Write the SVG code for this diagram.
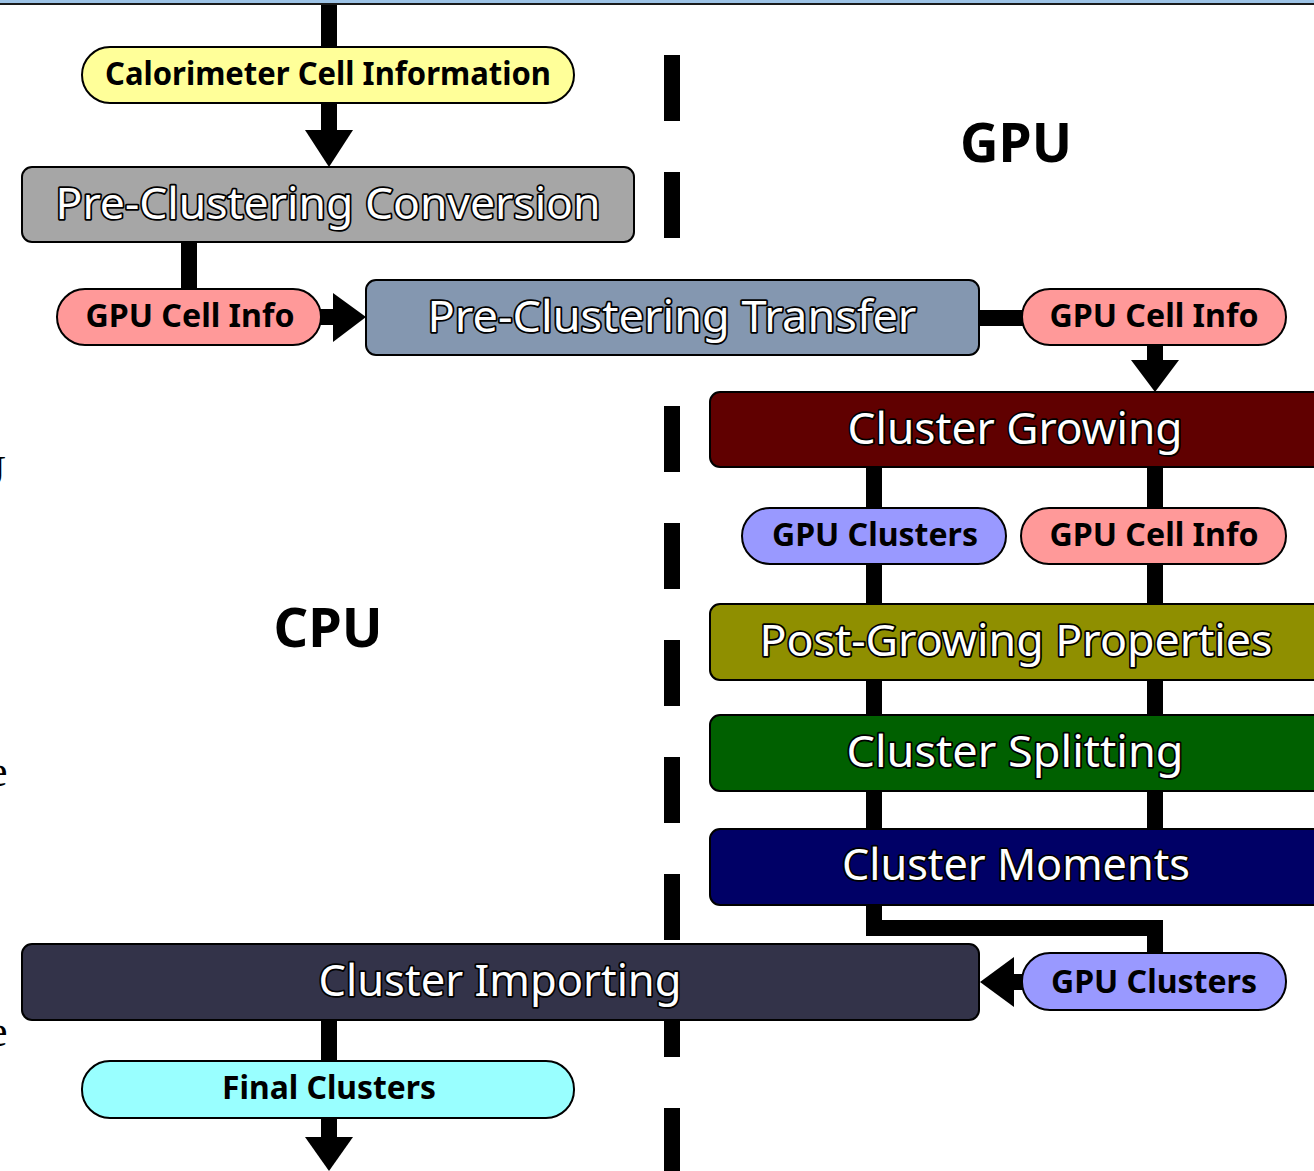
<svg xmlns="http://www.w3.org/2000/svg" width="1314" height="1171" viewBox="0 0 1314 1171">
  <style>
    .box { stroke: #000; stroke-width: 2; }
    .pill { stroke: #000; stroke-width: 2; }
    .lbl { font-family: "Noto Sans", "DejaVu Sans", sans-serif; font-size: 44px; fill: #fff; stroke: #000; stroke-width: 3.5; stroke-linejoin: round; paint-order: stroke; text-anchor: middle; }
    .plbl { font-family: "Noto Sans", "DejaVu Sans", sans-serif; font-weight: bold; font-size: 33px; fill: #000; text-anchor: middle; }
    .big { font-family: "Noto Sans", "DejaVu Sans", sans-serif; font-weight: bold; font-size: 54px; fill: #000; text-anchor: middle; }
    .edge { fill: none; stroke: #000; stroke-width: 16; stroke-linejoin: miter; }
    .ah { fill: #000; }
    .side { font-family: "Liberation Serif", "Times New Roman", serif; font-size: 44px; fill: #000; }
  </style>

  <rect x="0" y="0" width="1314" height="1171" fill="#fff"/>
  <rect x="0" y="0" width="1314" height="3" fill="#9dc3e6"/>
  <line x1="0" y1="4" x2="1314" y2="4" stroke="#1a1a1a" stroke-width="2"/>

  <!-- partial text at left edge -->
  <text class="side" x="-26" y="486">U</text>
  <text class="side" x="-12" y="786">e</text>
  <text class="side" x="-12" y="1046">e</text>

  <!-- divider -->
  <line x1="672" y1="55" x2="672" y2="1171" stroke="#000" stroke-width="16" stroke-dasharray="66 51"/>

  <text class="big" x="1016" y="162" textLength="112" lengthAdjust="spacingAndGlyphs">GPU</text>
  <text class="big" x="328" y="647" textLength="109" lengthAdjust="spacingAndGlyphs">CPU</text>

  <g id="connectors">
    <path class="edge" d="M329 5 V48"/>
    <path class="edge" d="M329 102 V132"/>
    <polygon class="ah" points="305,130 353,130 329,167"/>
    <path class="edge" d="M189 241 V290"/>
    <path class="edge" d="M320 317 H335"/>
    <polygon class="ah" points="333,293 333,342 366,317"/>
    <path class="edge" d="M978 318 H1024"/>
    <path class="edge" d="M1155 344 V362"/>
    <polygon class="ah" points="1131,360 1179,360 1155,392"/>
    <path class="edge" d="M874 466 V605"/>
    <path class="edge" d="M1155 466 V605"/>
    <path class="edge" d="M874 679 V716"/>
    <path class="edge" d="M1155 679 V716"/>
    <path class="edge" d="M874 790 V830"/>
    <path class="edge" d="M1155 790 V830"/>
    <path class="edge" d="M874 904 V928 H1155 V954"/>
    <path class="edge" d="M1024 982 H1012"/>
    <polygon class="ah" points="1014,957 1014,1007 980,982"/>
    <path class="edge" d="M329 1019 V1062"/>
    <path class="edge" d="M329 1117 V1139"/>
    <polygon class="ah" points="305,1137 353,1137 329,1171"/>
  </g>

  <g id="calo-info">
    <rect class="pill" x="82" y="47" width="492" height="56" rx="28" fill="#ffff99"/>
    <text class="plbl" x="328" y="85" textLength="446" lengthAdjust="spacingAndGlyphs">Calorimeter Cell Information</text>
  </g>

  <g id="pre-conversion">
    <rect class="box" x="22" y="167" width="612" height="75" rx="10" fill="#a6a6a6"/>
    <text class="lbl" x="328" y="219" textLength="545" lengthAdjust="spacingAndGlyphs">Pre-Clustering  Conversion</text>
  </g>

  <g id="cellinfo-1">
    <rect class="pill" x="57" y="289" width="264" height="56" rx="28" fill="#ff9999"/>
    <text class="plbl" x="190" y="327" textLength="209" lengthAdjust="spacingAndGlyphs">GPU Cell Info</text>
  </g>

  <g id="pre-transfer">
    <rect class="box" x="366" y="280" width="613" height="75" rx="10" fill="#8497b0"/>
    <text class="lbl" x="672" y="332" textLength="489" lengthAdjust="spacingAndGlyphs">Pre-Clustering  Transfer</text>
  </g>

  <g id="cellinfo-2">
    <rect class="pill" x="1022" y="289" width="264" height="56" rx="28" fill="#ff9999"/>
    <text class="plbl" x="1154" y="327" textLength="209" lengthAdjust="spacingAndGlyphs">GPU Cell Info</text>
  </g>

  <g id="cluster-growing">
    <rect class="box" x="710" y="392" width="620" height="75" rx="10" fill="#600000"/>
    <text class="lbl" x="1015" y="444" textLength="335" lengthAdjust="spacingAndGlyphs">Cluster  Growing</text>
  </g>

  <g id="gpu-clusters-1">
    <rect class="pill" x="742" y="508" width="264" height="56" rx="28" fill="#9999ff"/>
    <text class="plbl" x="875" y="546" textLength="206" lengthAdjust="spacingAndGlyphs">GPU Clusters</text>
  </g>

  <g id="cellinfo-3">
    <rect class="pill" x="1021" y="508" width="265" height="56" rx="28" fill="#ff9999"/>
    <text class="plbl" x="1154" y="546" textLength="209" lengthAdjust="spacingAndGlyphs">GPU Cell Info</text>
  </g>

  <g id="post-growing">
    <rect class="box" x="710" y="604" width="620" height="76" rx="10" fill="#8f8f00"/>
    <text class="lbl" x="1016" y="656" textLength="513" lengthAdjust="spacingAndGlyphs">Post-Growing  Properties</text>
  </g>

  <g id="cluster-splitting">
    <rect class="box" x="710" y="715" width="620" height="76" rx="10" fill="#006000"/>
    <text class="lbl" x="1015" y="767" textLength="337" lengthAdjust="spacingAndGlyphs">Cluster  Splitting</text>
  </g>

  <g id="cluster-moments">
    <rect class="box" x="710" y="829" width="620" height="76" rx="10" fill="#000066"/>
    <text class="lbl" x="1016" y="880" textLength="348" lengthAdjust="spacingAndGlyphs">Cluster  Moments</text>
  </g>

  <g id="gpu-clusters-2">
    <rect class="pill" x="1022" y="953" width="264" height="57" rx="28" fill="#9999ff"/>
    <text class="plbl" x="1154" y="993" textLength="206" lengthAdjust="spacingAndGlyphs">GPU Clusters</text>
  </g>

  <g id="cluster-importing">
    <rect class="box" x="22" y="944" width="957" height="76" rx="10" fill="#333349"/>
    <text class="lbl" x="500" y="996" textLength="363" lengthAdjust="spacingAndGlyphs">Cluster  Importing</text>
  </g>

  <g id="final-clusters">
    <rect class="pill" x="82" y="1061" width="492" height="57" rx="28" fill="#99ffff"/>
    <text class="plbl" x="329" y="1099" textLength="214" lengthAdjust="spacingAndGlyphs">Final Clusters</text>
  </g>
</svg>
